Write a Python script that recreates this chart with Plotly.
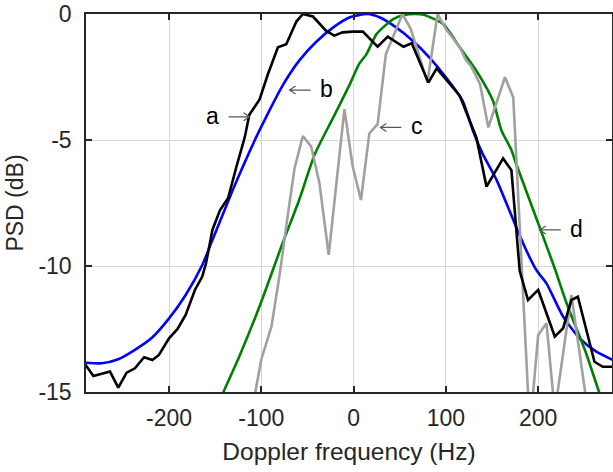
import plotly.graph_objects as go

# ---- data ----
f_a = [-291, -282, -264, -255, -246, -237, -227, -218, -211, -200, -191, -182, -172, -164, -160,
       -153, -145, -136, -127, -118, -113, -102, -93, -82, -73, -62, -55, -44, -30, -21, -12, -1,
       10, 26, 37, 45, 54, 63, 81, 90, 104, 115, 133, 144, 162, 171, 180, 189, 200, 218, 227, 236,
       243, 261, 270, 281]
psd_a = [-13.9, -14.37, -14.19, -14.83, -14.23, -14.06, -13.62, -13.73, -13.53, -12.87, -12.51,
         -11.94, -10.95, -10.42, -9.9, -8.57, -7.8, -7.3, -6.06, -4.9, -4.0, -3.4, -2.4, -1.32,
         -1.2, -0.3, 0.0, -0.1, -0.66, -0.86, -0.73, -0.7, -0.7, -1.3, -0.9, -1.1, -1.3, -1.16,
         -2.72, -2.16, -2.75, -3.24, -4.9, -6.85, -5.73, -6.2, -10.2, -11.35, -10.95, -12.8,
         -12.47, -11.35, -11.22, -13.8, -14.0, -14.0]

f_b = [-290, -273, -255, -237, -218, -200, -182, -164, -153, -130, -107, -95, -77, -59, -41, -22,
       -4, 15, 28, 46, 64, 82, 100, 118, 129, 140, 155, 176, 187, 198, 209, 227, 245, 263, 281]
psd_b = [-13.84, -13.86, -13.70, -13.33, -12.83, -12.08, -11.15, -9.96, -8.97, -6.9, -5.0, -4.10,
         -2.84, -1.85, -1.12, -0.53, -0.13, 0.0, -0.13, -0.53, -1.06, -1.72, -2.51, -3.44, -4.60,
         -5.56, -6.59, -8.44, -9.37, -10.16, -10.69, -12.01, -12.87, -13.40, -13.73]

f_c = [-119, -100, -89, -80, -71, -64, -55, -46, -37, -27, -10, -1, 8, 17, 26, 35, 44, 53, 62,
       80, 91, 100, 115, 122, 127, 137, 146, 164, 173, 191, 200, 209, 218, 236, 254, 263, 272]
psd_c = [-17.5, -13.7, -12.4, -10.3, -7.9, -6.12, -4.84, -5.26, -6.72, -9.56, -3.78, -6.05, -7.38,
         -4.74, -4.37, -1.59, -0.79, 0.0, -0.6, -2.71, 0.0, -0.6, -1.32, -1.85, -2.05, -2.78, -4.5,
         -2.51, -3.31, -16.5, -12.74, -12.27, -15.8, -11.15, -15.8, -17.0, -18.0]

f_d = [-150, -141, -124, -102, -77, -59, -42, -22, -4, 6, 14, 25, 43, 56, 66, 76, 97, 115, 133,
       151, 160, 171, 176, 202, 210, 218, 231, 252, 266, 278]
psd_d = [-15.9, -15.0, -13.6, -11.61, -9.1, -7.38, -5.56, -4.10, -2.78, -1.98, -1.59, -0.79, -0.2,
         -0.03, 0.0, -0.03, -0.40, -1.32, -2.25, -3.44, -4.6, -5.4, -5.93, -8.5, -9.3, -10.1,
         -11.5, -13.47, -15.0, -16.2]

x_ticks = [-200, -100, 0, 100, 200]
x_ticktext = ["-200", "-100", "0", "100", "200"]
y_ticks = [-15, -10, -5, 0]
y_ticktext = ["-15", "-10", "-5", "0"]

# label name, arrow head (Hz, dB), direction (+1 tail to right, -1 tail to left)
labels = [("a", -112.8, -4.08, -1), ("b", -69.4, -3.02, 1), ("c", 29.0, -4.5, 1), ("d", 201.7, -8.57, 1)]

FONT = "Liberation Sans, Arial, sans-serif"
AXC = "#262626"

fig = go.Figure()
fig.add_trace(go.Scatter(x=f_b, y=psd_b, mode="lines", line=dict(color="#0000ff", width=2.6, shape="spline", smoothing=0.6)))
fig.add_trace(go.Scatter(x=f_d, y=psd_d, mode="lines", line=dict(color="#008000", width=2.6, shape="spline", smoothing=0.6)))
fig.add_trace(go.Scatter(x=f_c, y=psd_c, mode="lines", line=dict(color="#a0a0a0", width=2.6)))
fig.add_trace(go.Scatter(x=f_a, y=psd_a, mode="lines", line=dict(color="#000000", width=2.6)))

for name, hx, hy, d in labels:
    L = 21 * d
    h = 6 * d
    fig.add_shape(type="path", xref="x", yref="y", xsizemode="pixel", ysizemode="pixel",
                  xanchor=hx, yanchor=hy,
                  path=f"M {L},0 L 0,0 M {h},4 L 0,0 L {h},-4",
                  line=dict(color="#555555", width=1.2))
    fig.add_annotation(x=hx, y=hy, xref="x", yref="y", text=name, showarrow=False,
                       xshift=37 * d, yshift=1, font=dict(family=FONT, size=23, color="#000000"))

fig.update_layout(
    width=613, height=472,
    margin=dict(l=86, r=1, t=14, b=80),
    plot_bgcolor="white", paper_bgcolor="white",
    showlegend=False,
    font=dict(family=FONT, size=23, color=AXC),
)
fig.update_xaxes(range=[-290, 280], tickvals=x_ticks, ticktext=x_ticktext, ticks="inside", ticklen=6,
                 tickwidth=1.5, automargin=False,
                 tickcolor=AXC, showline=True, linecolor=AXC, linewidth=1.5, mirror="ticks",
                 showgrid=True, gridcolor="#d6d6d6", gridwidth=1, zeroline=False,
                 ticklabelstandoff=5,
                 title=dict(text="Doppler frequency (Hz)", standoff=13, font=dict(size=24.5)))
fig.update_yaxes(range=[-15, 0], tickvals=y_ticks, ticktext=y_ticktext, ticks="inside", ticklen=6,
                 tickwidth=1.5, automargin=False,
                 tickcolor=AXC, showline=True, linecolor=AXC, linewidth=1.5, mirror="ticks",
                 showgrid=True, gridcolor="#d6d6d6", gridwidth=1, zeroline=False,
                 ticklabelstandoff=8,
                 title=dict(text="PSD (dB)", standoff=8, font=dict(size=23)))

fig.write_html("out.html", config={"displayModeBar": False},
               post_script="document.body.style.margin='0';document.body.style.overflow='hidden';")
